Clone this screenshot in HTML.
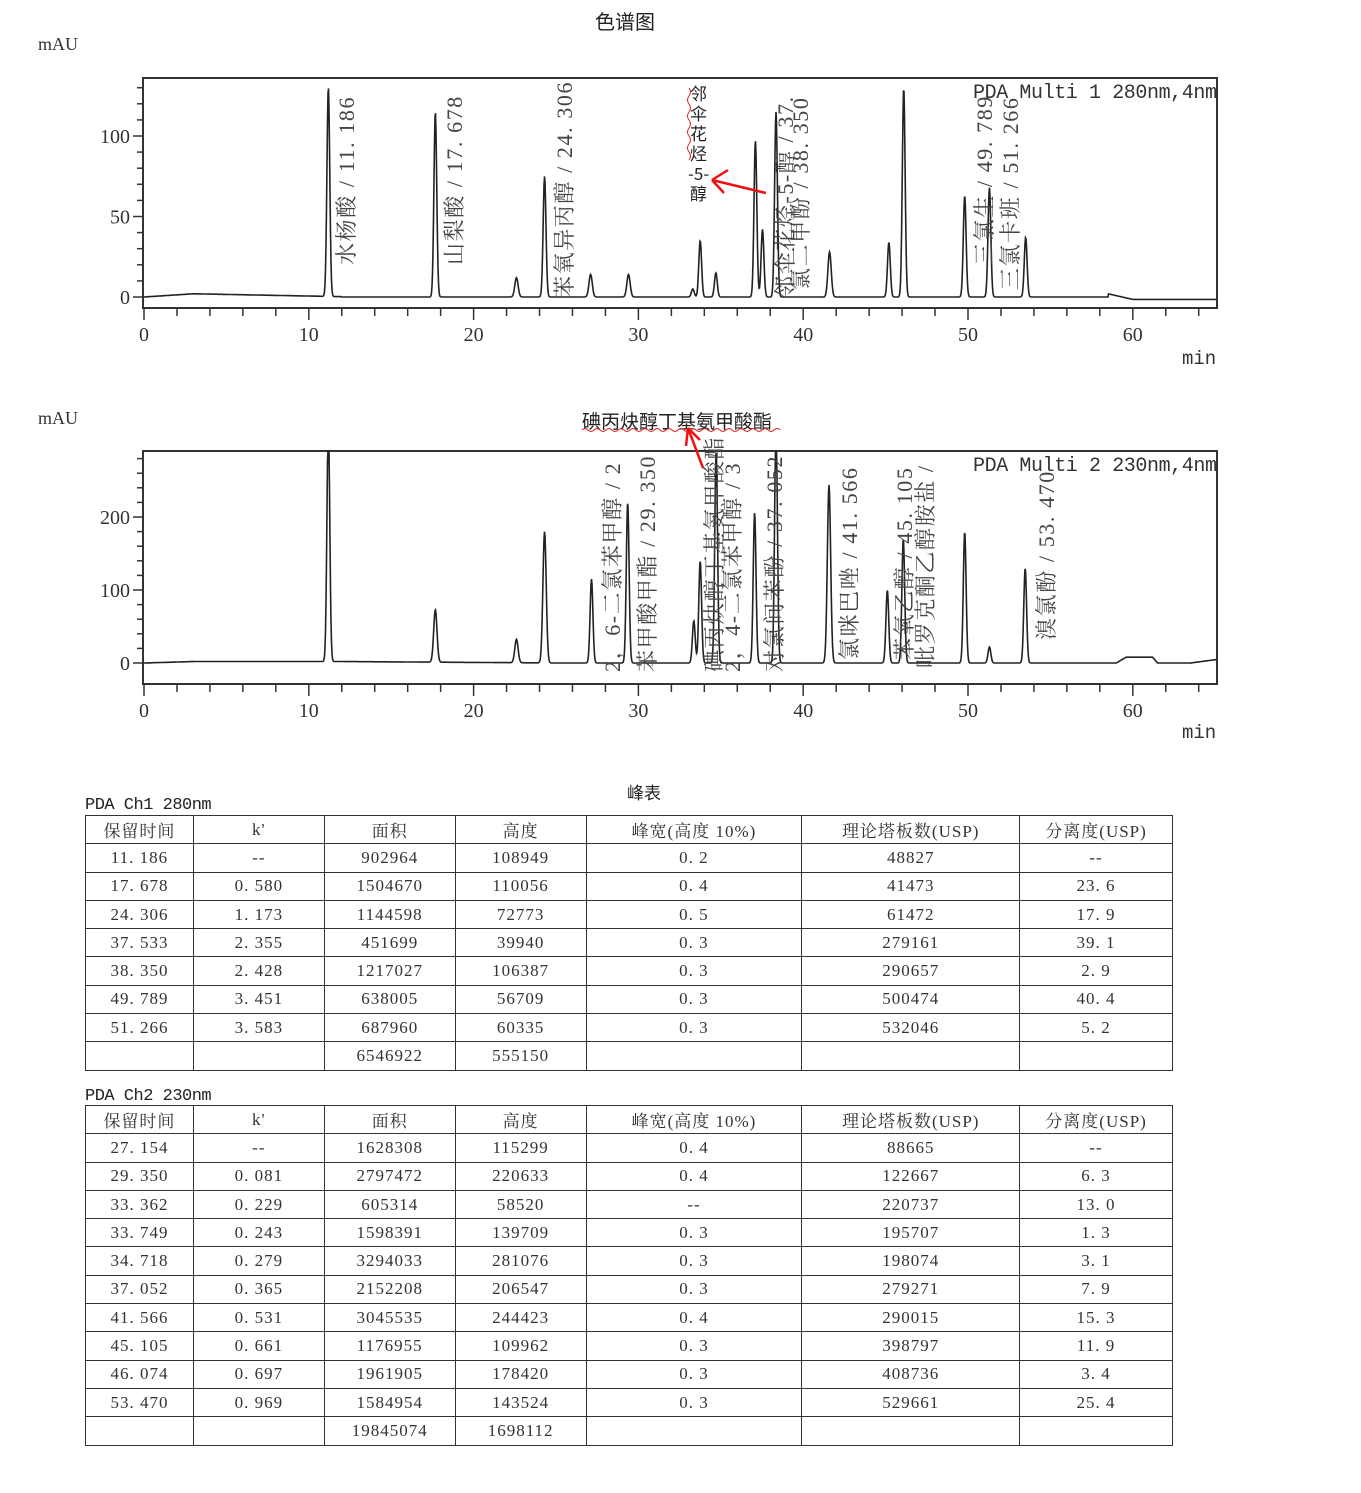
<!DOCTYPE html>
<html><head><meta charset="utf-8">
<style>
body{margin:0;background:#fff;width:1361px;height:1493px;overflow:hidden;position:relative;font-family:"Liberation Serif","Noto Serif CJK SC",serif;color:#222}
.abs{position:absolute;white-space:nowrap}
table{position:absolute;border-collapse:collapse;font-family:"Liberation Serif","Noto Serif CJK SC",serif;font-size:17px;color:#333}
td{border:1.5px solid #333;height:27.3px;padding:0;text-align:center;letter-spacing:1px}
</style></head><body>
<div class="abs" style="left:595px;top:6px;font-size:20px;font-family:'Noto Sans CJK SC',sans-serif">色谱图</div>
<svg id="svg" width="1361" height="780" style="position:absolute;left:0;top:0" font-family="Liberation Serif, Noto Serif CJK SC, serif">
<g id="g1"></g><g id="g2"></g>
<text x="38" y="50" font-size="18" fill="#333">mAU</text>
<text x="38" y="424" font-size="18" fill="#333">mAU</text>
<text x="1182" y="364" font-size="19" fill="#333" font-family="Liberation Mono, monospace">min</text>
<text x="1182" y="738" font-size="19" fill="#333" font-family="Liberation Mono, monospace">min</text>
<text x="973" y="98" font-size="20" fill="#333" font-family="Liberation Mono, monospace" textLength="244">PDA Multi 1 280nm,4nm</text>
<text x="973" y="471" font-size="20" fill="#333" font-family="Liberation Mono, monospace" textLength="244">PDA Multi 2 230nm,4nm</text>
<g font-size="22" fill="#444" letter-spacing="1.6">
<text transform="translate(354,265) rotate(-90)">水杨酸 / 11. 186</text>
<text transform="translate(462,265) rotate(-90)">山梨酸 / 17. 678</text>
<text transform="translate(572,298) rotate(-90)">苯氧异丙醇 / 24. 306</text>
<text transform="translate(793,298) rotate(-90)">邻伞花烃-5-醇 / 37.</text>
<text transform="translate(808,290) rotate(-90)">氯二甲酚 / 38. 350</text>
<text transform="translate(992,265) rotate(-90)">三氯生 / 49. 789</text>
<text transform="translate(1018,290) rotate(-90)">三氯卡班 / 51. 266</text>
<text transform="translate(620,672) rotate(-90)">2，6-二氯苯甲醇 / 2</text>
<text transform="translate(655,672) rotate(-90)">苯甲酸甲酯 / 29. 350</text>
<text transform="translate(722,672) rotate(-90)">碘丙炔醇丁基氨甲酸酯</text>
<text transform="translate(740,672) rotate(-90)">2，4-二氯苯甲醇 / 3</text>
<text transform="translate(782,672) rotate(-90)">对氯间苯酚 / 37. 052</text>
<text transform="translate(857,660) rotate(-90)">氯咪巴唑 / 41. 566</text>
<text transform="translate(912,660) rotate(-90)">苯氧乙醇 / 45. 105</text>
<text transform="translate(933,668) rotate(-90)">吡罗克酮乙醇胺盐 /</text>
<text transform="translate(1054,640) rotate(-90)">溴氯酚 / 53. 470</text>
</g>
<g font-size="17" fill="#222" font-family="Noto Sans CJK SC, sans-serif">
<text x="690" y="100">邻</text><text x="690" y="120">伞</text><text x="690" y="140">花</text><text x="690" y="160">烃</text><text x="688" y="180">-5-</text><text x="690" y="200">醇</text>
<text x="582" y="428" font-size="19">碘丙炔醇丁基氨甲酸酯</text>
</g>
<path d="M689 88 q3 4 0 8 q-3 4 0 8 q3 4 0 8 q-3 4 0 8 q3 4 0 8 q-3 4 0 8 q3 4 0 8 q-3 4 0 8 q3 4 0 8" stroke="#d22" fill="none" stroke-width="1"/>
<path d="M582 430 q3 -3 6 0 q3 3 6 0 q3 -3 6 0 q3 3 6 0 q3 -3 6 0 q3 3 6 0 q3 -3 6 0 q3 3 6 0 q3 -3 6 0 q3 3 6 0 q3 -3 6 0 q3 3 6 0 q3 -3 6 0 q3 3 6 0 q3 -3 6 0 q3 3 6 0 q3 -3 6 0 q3 3 6 0 q3 -3 6 0 q3 3 6 0 q3 -3 6 0 q3 3 6 0 q3 -3 6 0 q3 3 6 0 q3 -3 6 0 q3 3 6 0 q3 -3 6 0 q3 3 6 0 q3 -3 6 0 q3 3 6 0 q3 -3 6 0 q3 3 6 0 q3 -3 6 0" stroke="#d22" fill="none" stroke-width="1"/>
<g stroke="#e11" stroke-width="2.5" fill="none">
<path d="M766 193 L712 180 M712 180 L728 170 M712 180 L724 193"/>
<path d="M703 468 L688 428 M688 428 L686 446 M688 428 L700 440"/>
</g>
</svg>
<div class="abs" style="left:627px;top:779px;font-size:17px;font-family:'Noto Sans CJK SC',sans-serif">峰表</div>
<div class="abs" style="left:85px;top:797px;font-size:17px;line-height:18px;font-family:'Liberation Mono',monospace;letter-spacing:-0.5px">PDA Ch1 280nm</div>
<div class="abs" style="left:85px;top:1088px;font-size:17px;line-height:18px;font-family:'Liberation Mono',monospace;letter-spacing:-0.5px">PDA Ch2 230nm</div>
<table style="left:85px;top:815px;width:1088px">
<colgroup><col style="width:108px"><col style="width:131px"><col style="width:131px"><col style="width:131px"><col style="width:216px"><col style="width:218px"><col style="width:153px"></colgroup>
<tr><td>保留时间</td><td>k'</td><td>面积</td><td>高度</td><td>峰宽(高度 10%)</td><td>理论塔板数(USP)</td><td>分离度(USP)</td></tr>
<tr><td>11. 186</td><td>--</td><td>902964</td><td>108949</td><td>0. 2</td><td>48827</td><td>--</td></tr>
<tr><td>17. 678</td><td>0. 580</td><td>1504670</td><td>110056</td><td>0. 4</td><td>41473</td><td>23. 6</td></tr>
<tr><td>24. 306</td><td>1. 173</td><td>1144598</td><td>72773</td><td>0. 5</td><td>61472</td><td>17. 9</td></tr>
<tr><td>37. 533</td><td>2. 355</td><td>451699</td><td>39940</td><td>0. 3</td><td>279161</td><td>39. 1</td></tr>
<tr><td>38. 350</td><td>2. 428</td><td>1217027</td><td>106387</td><td>0. 3</td><td>290657</td><td>2. 9</td></tr>
<tr><td>49. 789</td><td>3. 451</td><td>638005</td><td>56709</td><td>0. 3</td><td>500474</td><td>40. 4</td></tr>
<tr><td>51. 266</td><td>3. 583</td><td>687960</td><td>60335</td><td>0. 3</td><td>532046</td><td>5. 2</td></tr>
<tr><td></td><td></td><td>6546922</td><td>555150</td><td></td><td></td><td></td></tr>
</table>
<table style="left:85px;top:1105px;width:1088px">
<colgroup><col style="width:108px"><col style="width:131px"><col style="width:131px"><col style="width:131px"><col style="width:216px"><col style="width:218px"><col style="width:153px"></colgroup>
<tr><td>保留时间</td><td>k'</td><td>面积</td><td>高度</td><td>峰宽(高度 10%)</td><td>理论塔板数(USP)</td><td>分离度(USP)</td></tr>
<tr><td>27. 154</td><td>--</td><td>1628308</td><td>115299</td><td>0. 4</td><td>88665</td><td>--</td></tr>
<tr><td>29. 350</td><td>0. 081</td><td>2797472</td><td>220633</td><td>0. 4</td><td>122667</td><td>6. 3</td></tr>
<tr><td>33. 362</td><td>0. 229</td><td>605314</td><td>58520</td><td>--</td><td>220737</td><td>13. 0</td></tr>
<tr><td>33. 749</td><td>0. 243</td><td>1598391</td><td>139709</td><td>0. 3</td><td>195707</td><td>1. 3</td></tr>
<tr><td>34. 718</td><td>0. 279</td><td>3294033</td><td>281076</td><td>0. 3</td><td>198074</td><td>3. 1</td></tr>
<tr><td>37. 052</td><td>0. 365</td><td>2152208</td><td>206547</td><td>0. 3</td><td>279271</td><td>7. 9</td></tr>
<tr><td>41. 566</td><td>0. 531</td><td>3045535</td><td>244423</td><td>0. 4</td><td>290015</td><td>15. 3</td></tr>
<tr><td>45. 105</td><td>0. 661</td><td>1176955</td><td>109962</td><td>0. 3</td><td>398797</td><td>11. 9</td></tr>
<tr><td>46. 074</td><td>0. 697</td><td>1961905</td><td>178420</td><td>0. 3</td><td>408736</td><td>3. 4</td></tr>
<tr><td>53. 470</td><td>0. 969</td><td>1584954</td><td>143524</td><td>0. 3</td><td>529661</td><td>25. 4</td></tr>
<tr><td></td><td></td><td>19845074</td><td>1698112</td><td></td><td></td><td></td></tr>
</table>
<script>
var NS="http://www.w3.org/2000/svg";
function el(p,t,a,txt){var e=document.createElementNS(NS,t);for(var k in a)e.setAttribute(k,a[k]);if(txt!=null)e.textContent=txt;p.appendChild(e);return e;}
function chart(g,top,bot,y0,ppu,yt,peaks,base){
  var X=function(t){return 144+t*16.48;};
  el(g,"rect",{x:143,y:top,width:1074,height:bot-top,fill:"none",stroke:"#333","stroke-width":2});
  for(var t=0;t<=64;t+=2){var big=t%10==0;el(g,"line",{x1:X(t),x2:X(t),y1:bot,y2:bot+(big?12:8),stroke:"#333","stroke-width":1.5});
    if(big)el(g,"text",{x:X(t),y:bot+33,"font-size":20,"text-anchor":"middle",fill:"#333"},t);}
  for(var v=0;v*ppu<=y0-top;v+=yt[1]){var y=y0-v*ppu;var big=v%yt[0]==0;el(g,"line",{x1:143,x2:143-(big?10:6),y1:y,y2:y,stroke:"#333","stroke-width":1.5});
    if(big)el(g,"text",{x:130,y:y+7,"font-size":20,"text-anchor":"end",fill:"#333"},v);}
  var d="";
  for(var px=144;px<=1217;px+=0.5){var t=(px-144)/16.48;var h=base(t);
    for(var i=0;i<peaks.length;i++){var p=peaks[i];var s=p[2]||0.085;var dt=t-p[0];h+=p[1]*Math.exp(-dt*dt/(2*s*s));}
    var y=y0-h*ppu;if(y<top)y=top;d+=(d?"L":"M")+px.toFixed(1)+" "+y.toFixed(1);}
  el(g,"path",{d:d,fill:"none",stroke:"#222","stroke-width":1.6});
}
chart(document.getElementById("g1"),78,308,297,1.61,[50,10],
 [[11.186,130],[17.678,115],[22.6,12,0.1],[24.306,75],[27.1,14,0.1],[29.4,14,0.1],[33.3,5],[33.75,35],[34.7,15],[37.1,97],[37.53,42],[38.35,115],[41.6,28,0.1],[45.2,34],[46.1,130],[49.8,63],[51.3,68],[53.5,37]],
 function(t){var b=0;if(t<3)b=2*t/3;else if(t<12)b=2-(t-3)*0.2;if(t>58.5&&t<60)b=2*(60-t)/1.5-1.5*(t-58.5)/1.5;else if(t>=60)b=-1.5;if(t>58&&t<=58.5)b=0;return b;});
chart(document.getElementById("g2"),451,684,663,0.73,[100,20],
 [[11.186,330],[17.678,72,0.1],[22.6,32,0.1],[24.306,180,0.1],[27.154,115],[29.35,220],[33.362,58],[33.749,140],[34.718,290],[37.052,206],[38.35,330],[41.566,244,0.1],[45.105,100],[46.074,170],[49.8,180],[51.3,22],[53.47,130]],
 function(t){var b=0;if(t<3)b=2*t/3;else if(t<12)b=2;else if(t<24)b=2-(t-12)*0.15;
   if(t>59&&t<61.5)b+=8*Math.min(1,(t-59)/0.6)*Math.min(1,(61.5-t)/0.3);if(t>63.5)b+=(t-63.5)*3;return b;});
</script>
</body></html>
